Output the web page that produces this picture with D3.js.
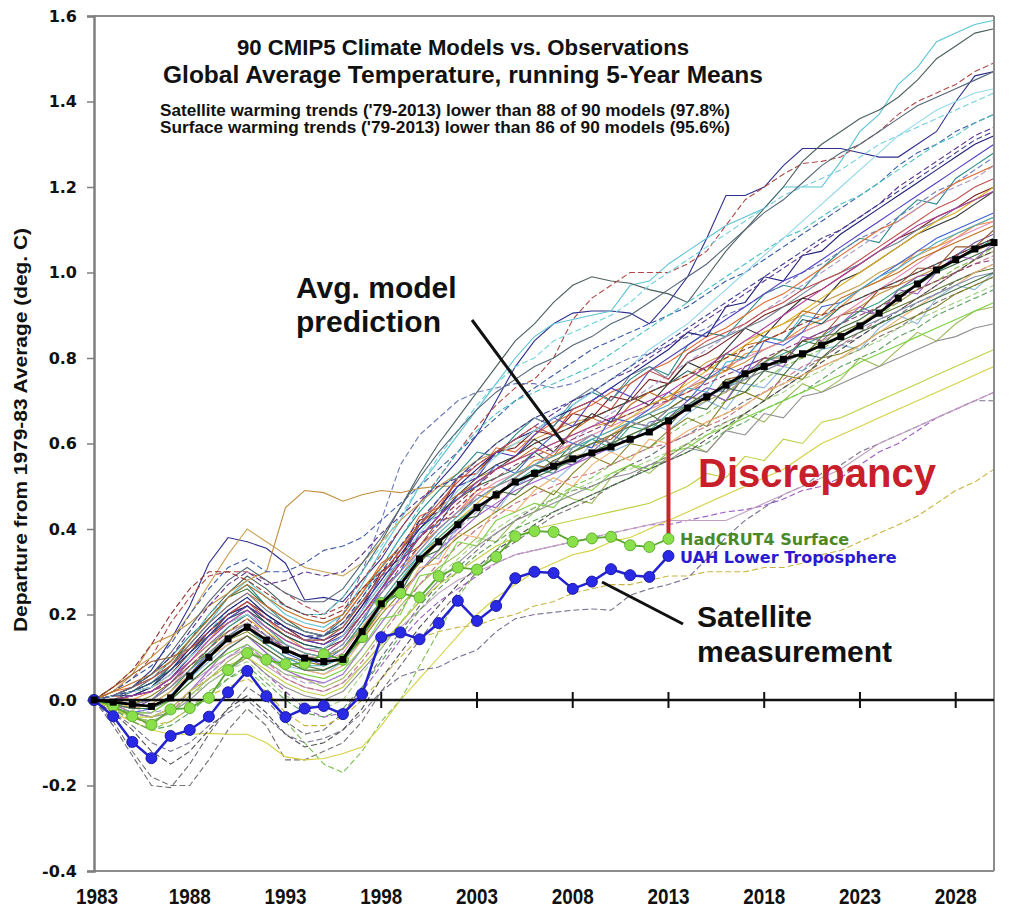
<!DOCTYPE html>
<html><head><meta charset="utf-8">
<script src="https://cdn.jsdelivr.net/npm/d3@7"></script>
<style>body{margin:0;background:#fff}svg{display:block}</style>
</head><body>
<svg id="chart" width="1009" height="909"></svg>
<script>
// ---------- data ----------
const years = d3.range(1983, 2031);            // 1983 ... 2030
const xTickYears = [1983,1988,1993,1998,2003,2008,2013,2018,2023,2028];
const yTickValues = [-0.4,-0.2,0,0.2,0.4,0.6,0.8,1.0,1.2,1.4,1.6];

const avgModel = [0,-.005,-.01,-.015,.005,.056,.10,.143,.17,  .14,.117,.098,.09,.095,  .16,.225,.27,.33,.37,.41,.45,.48,.51,  .53,.547,.564,.578,.592,.61,.627,.653,  .683,.709,.737,.763,.78,.797,.81,.83,  .85,.875,.905,.94,.973,1.006,1.03,1.055,1.07];
const hadcrut4 = [0,-.014,-.038,-.058,-.022,-.019,.005,.07,.11,  .094,.084,.085,.107,.094,  .147,.227,.25,.24,.29,.31,.305,.335,.383,  .395,.393,.37,.378,.382,.362,.358,.377];
const uahLT = [0,-.038,-.098,-.136,-.084,-.07,-.039,.018,.068,  .009,-.04,-.02,-.014,-.033,  .014,.147,.158,.142,.18,.232,.185,.22,.285,  .30,.297,.26,.277,.306,.292,.288,.337];

const modelRuns = [
[0,.01,.03,.07,.14,.22,.32,.38,.37,  .355,.32,.234,.24,.23,  .28,.33,.4,.46,.51,.56,.62,.70,.78,  .84,.88,.905,.91,.91,.905,.88,.93,  .99,1.08,1.18,1.18,1.2,1.25,1.29,1.29,  1.29,1.28,1.27,1.27,1.3,1.33,1.4,1.46,1.47],
[0,.01,.02,.04,.08,.13,.18,.24,.28,  .24,.2,.18,.17,.2,  .27,.35,.42,.5,.56,.62,.68,.74,.8,  .85,.88,.89,.9,.91,.97,.98,1.02,  1.05,1.08,1.11,1.13,1.15,1.2,1.2,1.2,  1.26,1.33,1.37,1.44,1.48,1.54,1.56,1.58,1.59],
[0,0,.02,.05,.09,.14,.2,.25,.29,  .26,.22,.2,.2,.24,  .3,.37,.45,.53,.6,.66,.72,.78,.84,  .88,.93,.97,.99,.98,.975,.96,.95,  .93,.99,1.05,1.1,1.15,1.2,1.26,1.3,  1.33,1.36,1.38,1.41,1.45,1.5,1.53,1.56,1.57],
[0,.02,.05,.1,.18,.24,.29,.3,.3,  .28,.25,.22,.2,.22,  .28,.34,.4,.46,.52,.58,.64,.69,.73,  .75,.8,.89,.94,.97,1.0,1.0,1.0,  1.02,1.05,1.11,1.17,1.2,1.23,1.255,1.26,  1.27,1.3,1.33,1.37,1.4,1.42,1.44,1.47,1.49],
[0,.03,.07,.1,.14,.2,.27,.34,.4,  .37,.34,.31,.3,.29,  .32,.37,.42,.46,.5,.53,.56,.58,.6,  .61,.63,.65,.66,.68,.7,.72,.74,  .76,.79,.81,.84,.86,.88,.9,.93,  .95,.97,1.0,1.02,1.04,1.06,1.09,1.11,1.13],
[0,.02,.06,.13,.15,.18,.22,.25,.28,  .3,.45,.49,.485,.465,  .48,.49,.485,.495,.5,.5,.52,.54,.56,  .58,.6,.62,.64,.65,.67,.69,.71,  .73,.75,.77,.79,.82,.84,.86,.88,  .9,.92,.95,.97,.99,1.01,1.03,1.05,1.07],
[0,.01,.03,.06,.1,.15,.19,.24,.27,  .22,.18,.16,.15,.19,  .25,.31,.38,.44,.49,.53,.58,.57,.62,  .66,.64,.69,.72,.7,.75,.78,.76,  .83,.86,.85,.9,.95,.97,.96,1.01,  1.05,1.08,1.07,1.13,1.17,1.16,1.22,1.25,1.28],
[0,-.01,-.02,0,.04,.09,.13,.17,.2,  .16,.12,.1,.08,.1,  .15,.21,.27,.33,.37,.4,.46,.45,.5,  .52,.56,.55,.58,.62,.6,.65,.66,  .7,.73,.72,.78,.8,.79,.84,.86,  .88,.91,.9,.96,.99,1.0,1.04,1.07,1.09],
[0,-.02,-.04,-.05,-.03,.01,.05,.09,.12,  .09,.06,.05,.03,.05,  .1,.16,.22,.27,.31,.34,.38,.37,.42,  .44,.49,.47,.46,.52,.55,.53,.57,  .6,.58,.63,.67,.65,.7,.74,.72,  .75,.8,.78,.82,.86,.84,.88,.91,.92],
[0,.01,0,.02,.05,.1,.14,.19,.22,  .19,.15,.12,.11,.14,  .2,.25,.3,.36,.4,.44,.49,.5,.52,  .56,.57,.6,.59,.62,.65,.67,.7,  .72,.75,.77,.81,.82,.84,.87,.89,  .92,.96,.98,1.01,1.05,1.06,1.08,1.11,1.12],
[0,-.06,-.13,-.2,-.205,-.15,-.08,-.02,.03,  0,-.05,-.08,-.07,-.03,  .03,.1,.16,.22,.27,.31,.35,.39,.42,  .45,.47,.49,.5,.52,.55,.57,.6,  .62,.65,.67,.7,.72,.74,.77,.8,  .83,.85,.88,.9,.93,.95,.98,1.0,1.02],
[0,-.05,-.12,-.18,-.2,-.2,-.14,-.07,-.02,  -.06,-.14,-.14,-.12,-.1,  -.05,.02,.08,.14,.2,.25,.3,.34,.37,  .4,.43,.45,.47,.5,.52,.55,.57,  .6,.63,.65,.67,.7,.73,.76,.78,  .8,.82,.85,.87,.9,.93,.95,.97,.99],
[0,-.02,-.05,-.07,-.05,-.02,.02,.05,.07,  .03,-.05,-.1,-.15,-.17,  -.12,-.05,0,.08,.16,.24,.3,.35,.4,  .44,.47,.5,.52,.55,.57,.59,.62,  .65,.67,.7,.72,.75,.78,.8,.82,  .85,.88,.9,.93,.96,.98,1.01,1.03,1.06],
[0,-.03,-.05,-.07,-.08,-.08,-.078,-.08,-.08,  -.1,-.133,-.14,-.137,-.125,  -.11,-.06,0,.05,.1,.15,.2,.24,.27,  .3,.32,.34,.35,.37,.38,.4,.42,  .44,.46,.48,.5,.52,.54,.57,.6,  .62,.64,.66,.68,.7,.72,.74,.76,.78],
[0,-.02,-.04,-.06,-.05,-.02,.01,.03,.05,  .02,-.03,-.06,-.06,-.04,  0,.05,.1,.145,.16,.17,.175,.19,.2,  .22,.23,.25,.26,.27,.27,.28,.29,  .29,.3,.3,.3,.31,.31,.32,.34,  .35,.37,.39,.41,.43,.46,.49,.51,.54],
[0,-.03,-.06,-.1,-.12,-.1,-.06,-.03,0,  -.04,-.08,-.1,-.09,-.07,  -.03,.02,.055,.07,.077,.1,.117,.16,.19,  .2,.205,.21,.213,.21,.245,.26,.27,  .285,.33,.38,.42,.45,.48,.5,.53,  .55,.58,.6,.62,.64,.66,.68,.7,.7],
[0,-.01,-.03,-.04,-.02,.02,.05,.08,.1,  .06,.02,-.02,-.04,-.03,  .02,.08,.14,.19,.23,.26,.29,.32,.34,  .35,.36,.37,.38,.39,.4,.41,.41,  .42,.43,.44,.445,.455,.47,.49,.5,  .52,.55,.58,.6,.63,.66,.68,.7,.72],
[0,-.02,-.03,-.03,0,.04,.07,.1,.12,  .08,.05,.03,.02,.04,  .08,.13,.17,.21,.25,.28,.3,.32,.34,  .35,.36,.37,.38,.39,.4,.41,.42,  .42,.42,.42,.44,.46,.48,.5,.52,  .54,.57,.6,.62,.64,.66,.68,.7,.72],
[0,.02,.05,.08,.13,.2,.26,.31,.33,  .3,.3,.32,.35,.36,  .38,.42,.46,.5,.54,.58,.62,.66,.7,  .73,.76,.79,.82,.84,.86,.88,.9,  .92,.95,.98,1.0,1.03,1.06,1.09,1.12,  1.15,1.18,1.21,1.25,1.28,1.3,1.33,1.35,1.37],
[0,.01,.03,.05,.08,.12,.16,.2,.22,  .19,.16,.14,.15,.2,  .3,.42,.55,.62,.66,.7,.72,.73,.74,  .74,.73,.74,.76,.78,.8,.81,.83,  .85,.87,.9,.92,.95,.97,1.0,1.02,  1.05,1.08,1.1,1.13,1.16,1.19,1.21,1.24,1.27],
[0,.03,.06,.09,.1,.12,.15,.18,.2,  .17,.14,.12,.12,.15,  .2,.26,.33,.36,.42,.43,.48,.47,.52,  .55,.54,.58,.6,.61,.65,.64,.68,  .71,.7,.75,.76,.8,.8,.84,.85,  .9,.91,.96,.97,1.01,1.01,1.06,1.06,1.1],
[0,0,.01,.03,.08,.14,.19,.24,.26,  .22,.19,.16,.15,.17,  .23,.29,.35,.4,.44,.47,.5,.52,.54,  .58,.55,.6,.62,.6,.65,.67,.64,  .69,.72,.7,.76,.78,.79,.84,.83,  .87,.89,.92,.95,.97,1.0,1.02,1.04,1.06],
[0,-.01,-.02,-.02,.01,.05,.09,.13,.15,  .11,.08,.07,.06,.09,  .14,.22,.25,.34,.33,.41,.46,.44,.5,  .53,.51,.55,.6,.58,.6,.65,.63,  .67,.7,.68,.74,.73,.78,.77,.82,  .83,.82,.87,.9,.88,.94,.97,.96,1.0],
[0,0,-.01,0,.03,.08,.12,.16,.18,  .14,.12,.1,.09,.11,  .17,.23,.29,.35,.4,.44,.48,.51,.53,  .55,.58,.6,.62,.64,.66,.68,.7,  .73,.76,.78,.8,.82,.84,.86,.88,  .9,.93,.96,.99,1.02,1.05,1.08,1.1,1.12],
[0,.01,.02,.03,.06,.11,.16,.2,.23,  .2,.17,.14,.13,.16,  .22,.3,.33,.42,.44,.52,.53,.58,.59,  .63,.62,.67,.66,.71,.7,.75,.74,  .79,.81,.84,.87,.9,.92,.94,.96,  .99,1.02,1.05,1.08,1.1,1.13,1.15,1.18,1.2],
[0,-.01,-.01,.01,.04,.08,.11,.14,.16,  .13,.1,.09,.08,.1,  .14,.2,.25,.3,.34,.38,.41,.44,.47,  .5,.48,.53,.57,.55,.6,.59,.63,  .66,.64,.7,.72,.7,.76,.75,.8,  .81,.83,.86,.88,.9,.92,.95,.97,.99],
[0,.01,.02,.04,.07,.12,.16,.21,.24,  .2,.16,.14,.14,.17,  .24,.31,.38,.45,.52,.58,.63,.67,.7,  .72,.74,.76,.78,.81,.84,.87,.9,  .93,.96,.99,1.02,1.05,1.08,1.1,1.13,  1.16,1.18,1.21,1.24,1.27,1.3,1.32,1.35,1.37],
[0,0,.01,.02,.05,.1,.15,.2,.22,  .18,.15,.13,.12,.14,  .2,.26,.32,.38,.43,.48,.52,.55,.57,  .61,.58,.63,.67,.65,.71,.69,.74,  .79,.77,.82,.87,.85,.9,.94,.93,  .98,1.0,1.03,1.06,1.09,1.11,1.13,1.16,1.19],
[0,-.02,-.03,-.02,.01,.06,.11,.15,.18,  .15,.11,.09,.09,.12,  .18,.26,.3,.39,.41,.48,.5,.55,.53,  .58,.62,.6,.59,.66,.65,.68,.72,  .7,.75,.78,.76,.84,.83,.86,.92,  .93,.96,.99,1.02,1.05,1.08,1.1,1.12,1.14],
[0,-.02,-.05,-.07,-.06,-.03,.01,.05,.08,  .04,0,-.03,-.04,-.02,  .03,.09,.15,.21,.26,.3,.34,.37,.4,  .42,.44,.46,.48,.5,.52,.54,.56,  .58,.6,.63,.65,.68,.7,.72,.75,  .78,.8,.82,.85,.87,.9,.92,.94,.96],
[0,.02,.03,.05,.08,.13,.18,.22,.25,  .22,.19,.17,.16,.19,  .25,.32,.35,.43,.45,.52,.53,.59,.58,  .62,.65,.67,.69,.72,.74,.77,.79,  .82,.85,.87,.9,.93,.95,.98,1.01,  1.04,1.07,1.1,1.12,1.15,1.18,1.21,1.23,1.25],
[0,-.01,-.03,-.04,-.02,.02,.07,.12,.15,  .11,.07,.05,.04,.06,  .12,.18,.24,.3,.35,.39,.43,.46,.49,  .51,.53,.55,.57,.59,.61,.63,.65,  .68,.72,.7,.77,.79,.78,.85,.84,  .88,.92,.9,.96,.95,1.0,1.04,1.03,1.07],
[0,.01,.02,.04,.08,.13,.18,.22,.25,  .21,.18,.16,.15,.18,  .23,.29,.35,.41,.47,.52,.56,.6,.63,  .66,.64,.7,.73,.7,.76,.78,.75,  .81,.83,.85,.87,.89,.92,.95,.98,  1.0,1.02,1.05,1.07,1.1,1.12,1.15,1.17,1.19],
[0,0,-.02,-.01,.02,.07,.12,.16,.19,  .16,.13,.11,.1,.12,  .17,.22,.28,.33,.38,.42,.46,.5,.53,  .55,.57,.59,.61,.63,.66,.69,.71,  .74,.77,.8,.83,.86,.88,.91,.94,  .97,1.0,1.03,1.06,1.09,1.12,1.14,1.17,1.2],
[0,.01,.03,.05,.09,.14,.2,.24,.27,  .24,.22,.2,.2,.24,  .3,.36,.43,.5,.57,.63,.69,.74,.78,  .8,.84,.86,.88,.9,.93,.97,1.0,  1.03,1.06,1.09,1.12,1.15,1.18,1.2,1.22,  1.24,1.27,1.3,1.32,1.34,1.36,1.38,1.4,1.42],
[0,-.01,-.02,-.01,.02,.07,.12,.17,.2,  .17,.13,.11,.1,.12,  .18,.23,.29,.34,.38,.42,.45,.48,.51,  .54,.53,.58,.61,.59,.64,.63,.67,  .69,.71,.73,.76,.79,.81,.83,.85,  .88,.91,.93,.96,.98,1.0,1.03,1.05,1.08],
[0,-.02,-.04,-.05,-.03,.02,.06,.1,.13,  .09,.05,.03,.02,.04,  .09,.15,.21,.27,.32,.36,.4,.43,.46,  .48,.5,.52,.53,.55,.57,.59,.6,  .62,.64,.66,.69,.72,.75,.78,.8,  .83,.86,.89,.91,.94,.97,1.0,1.02,1.04],
[0,.01,.01,.03,.07,.12,.17,.21,.24,  .2,.17,.15,.14,.16,  .22,.28,.34,.4,.45,.5,.54,.58,.61,  .63,.66,.68,.7,.73,.76,.79,.82,  .86,.85,.92,.93,.99,.98,1.04,1.05,  1.09,1.12,1.15,1.18,1.21,1.24,1.27,1.3,1.32],
[0,-.02,-.03,-.03,0,.04,.08,.11,.13,  .1,.07,.06,.05,.07,  .12,.19,.2,.29,.3,.37,.36,.42,.44,  .46,.45,.5,.49,.53,.55,.54,.58,  .59,.62,.64,.66,.68,.7,.72,.74,  .76,.79,.81,.83,.85,.87,.89,.91,.93],
[0,.01,.02,.03,.05,.09,.13,.16,.18,  .15,.12,.1,.1,.12,  .17,.22,.27,.32,.37,.41,.45,.48,.51,  .53,.55,.57,.58,.6,.62,.64,.66,  .68,.7,.72,.75,.77,.79,.81,.84,  .86,.88,.91,.93,.96,.98,1.0,1.03,1.05],
[0,.01,.03,.06,.1,.16,.22,.27,.3,  .27,.28,.3,.29,.3,  .34,.39,.43,.47,.5,.52,.55,.58,.61,  .64,.67,.7,.72,.75,.77,.8,.83,  .86,.89,.92,.95,.98,1.01,1.04,1.07,  1.1,1.13,1.16,1.2,1.23,1.26,1.29,1.32,1.34],
[0,-.01,-.03,-.04,-.03,0,.04,.07,.1,  .06,.03,.01,0,.02,  .07,.12,.18,.23,.28,.32,.36,.39,.42,  .44,.46,.48,.5,.52,.53,.55,.56,  .59,.58,.63,.62,.67,.66,.71,.72,  .74,.76,.78,.8,.82,.84,.85,.87,.88],
[0,.01,.02,.04,.07,.11,.15,.19,.21,  .18,.15,.13,.12,.15,  .21,.27,.33,.38,.43,.47,.51,.54,.57,  .6,.62,.64,.66,.68,.7,.72,.74,  .77,.75,.81,.8,.85,.84,.89,.88,  .92,.94,.96,.98,1.0,1.02,1.04,1.06,1.08],
[0,-.02,-.04,-.05,-.03,.01,.04,.07,.09,  .05,.01,-.01,-.02,0,  .06,.12,.18,.24,.29,.33,.37,.4,.43,  .45,.47,.49,.51,.53,.54,.56,.58,  .6,.62,.65,.67,.7,.72,.75,.77,  .8,.82,.84,.87,.89,.91,.93,.95,.97],
[0,.02,.04,.06,.09,.14,.19,.24,.27,  .24,.21,.19,.18,.2,  .26,.31,.36,.41,.45,.48,.51,.54,.56,  .59,.57,.63,.66,.64,.69,.72,.7,  .75,.78,.77,.83,.84,.86,.91,.9,  .94,.96,.98,1.0,1.03,1.05,1.07,1.09,1.11],
[0,0,.01,.02,.05,.1,.15,.19,.22,  .19,.16,.14,.13,.15,  .21,.29,.32,.41,.43,.5,.52,.58,.57,  .62,.66,.64,.7,.73,.71,.77,.8,  .83,.86,.89,.92,.95,.98,1.0,1.03,  1.06,1.09,1.12,1.15,1.18,1.21,1.24,1.27,1.3],
[0,-.01,-.02,-.03,-.02,.02,.06,.1,.13,  .09,.06,.04,.04,.06,  .12,.18,.24,.3,.35,.4,.44,.48,.52,  .55,.58,.61,.64,.67,.7,.73,.76,  .79,.82,.85,.88,.91,.94,.97,1.0,  1.03,1.06,1.09,1.12,1.15,1.18,1.2,1.22,1.25],
[0,0,-.01,0,.03,.07,.11,.15,.17,  .13,.1,.08,.07,.09,  .15,.21,.27,.32,.37,.41,.45,.48,.51,  .53,.56,.58,.6,.62,.64,.66,.68,  .71,.7,.75,.74,.79,.82,.8,.85,  .86,.88,.9,.92,.94,.96,.98,1.0,1.01],
[0,.01,.03,.05,.08,.12,.16,.2,.23,  .19,.16,.14,.14,.17,  .23,.29,.35,.41,.46,.51,.55,.58,.61,  .64,.62,.68,.7,.68,.74,.77,.75,  .81,.84,.86,.88,.91,.93,.96,.98,  1.0,1.03,1.06,1.09,1.12,1.15,1.17,1.2,1.22],
[0,-.01,-.02,-.02,.01,.05,.1,.14,.17,  .13,.1,.08,.08,.1,  .16,.22,.28,.34,.39,.43,.47,.5,.53,  .55,.57,.59,.61,.63,.65,.67,.69,  .73,.72,.79,.8,.85,.84,.9,.89,  .93,.96,.99,1.01,1.04,1.07,1.09,1.11,1.13],
[0,-.03,-.07,-.12,-.15,-.12,-.07,-.02,.01,  -.03,-.08,-.11,-.1,-.07,  -.02,.05,.11,.17,.22,.27,.31,.35,.38,  .41,.44,.46,.48,.5,.52,.54,.56,  .58,.61,.64,.67,.7,.73,.76,.79,  .82,.85,.88,.91,.94,.97,1.0,1.03,1.05],
[0,.01,.03,.06,.11,.17,.23,.28,.31,  .28,.25,.23,.23,.26,  .32,.38,.45,.52,.58,.63,.68,.72,.75,  .78,.8,.83,.85,.88,.9,.93,.96,  .99,1.02,1.06,1.1,1.14,1.17,1.21,1.25,  1.28,1.3,1.33,1.36,1.39,1.41,1.43,1.45,1.47],
[0,-.01,-.02,-.01,.02,.06,.1,.13,.15,  .12,.09,.07,.06,.08,  .14,.21,.23,.31,.32,.39,.38,.45,.44,  .49,.52,.5,.55,.58,.56,.61,.6,  .63,.65,.67,.69,.72,.74,.76,.78,  .8,.83,.86,.89,.92,.95,.97,1.0,1.02],
[0,0,.01,.02,.04,.08,.12,.16,.19,  .15,.12,.1,.1,.13,  .19,.25,.31,.36,.41,.45,.49,.52,.55,  .57,.59,.61,.63,.65,.67,.69,.7,  .72,.74,.76,.78,.8,.82,.84,.86,  .88,.9,.92,.94,.96,.98,1.0,1.02,1.03],
[0,.01,.02,.03,.06,.1,.14,.18,.2,  .17,.14,.12,.12,.15,  .21,.27,.33,.39,.44,.49,.53,.57,.6,  .63,.66,.69,.72,.75,.78,.82,.85,  .88,.92,.96,1.0,1.04,1.08,1.12,1.16,  1.2,1.24,1.28,1.32,1.35,1.38,1.4,1.42,1.43],
[0,-.02,-.04,-.04,-.02,.02,.05,.08,.1,  .07,.04,.02,.01,.03,  .08,.13,.18,.23,.27,.3,.33,.36,.38,  .4,.41,.42,.43,.44,.45,.46,.48,  .5,.53,.52,.57,.56,.61,.6,.65,  .66,.68,.7,.72,.74,.76,.78,.8,.82],
[0,.01,.02,.04,.07,.11,.16,.2,.22,  .19,.17,.15,.15,.18,  .24,.3,.36,.42,.47,.52,.56,.6,.63,  .66,.68,.7,.72,.75,.78,.81,.84,  .87,.9,.93,.96,.99,1.02,1.05,1.08,  1.1,1.13,1.16,1.19,1.22,1.25,1.28,1.31,1.33],
[0,.03,.07,.13,.2,.26,.3,.3,.28,  .25,.22,.2,.19,.21,  .26,.3,.34,.38,.42,.46,.5,.54,.57,  .6,.62,.64,.66,.68,.7,.72,.74,  .76,.78,.8,.82,.84,.86,.88,.9,  .92,.94,.96,.98,1.0,1.02,1.04,1.06,1.08],
[0,-.01,-.01,0,.03,.07,.11,.15,.18,  .15,.13,.11,.1,.13,  .19,.25,.3,.35,.4,.44,.47,.5,.52,  .55,.53,.59,.62,.6,.65,.64,.68,  .69,.71,.73,.75,.77,.79,.81,.83,  .85,.87,.89,.91,.93,.95,.97,.99,1.0],
[0,0,.01,.02,.05,.09,.14,.18,.21,  .17,.14,.12,.11,.14,  .2,.26,.32,.38,.43,.47,.51,.54,.56,  .58,.6,.62,.64,.66,.68,.7,.72,  .75,.78,.81,.84,.87,.9,.93,.96,  .99,1.02,1.05,1.08,1.11,1.13,1.15,1.17,1.19],
[0,-.01,-.02,-.02,0,.04,.08,.12,.15,  .12,.09,.07,.07,.09,  .15,.23,.25,.33,.35,.42,.43,.49,.48,  .52,.54,.56,.58,.6,.62,.64,.66,  .69,.68,.73,.72,.77,.76,.81,.8,  .84,.86,.88,.9,.92,.94,.96,.98,1.0]
];

const modelColors = ["#2e2e8e","#5cc4d4","#4a5e5e","#b04848","#c8a050","#c49040","#2a8a8a","#7a4fa8","#9bbb59","#f08a3a",
"#6a6a78","#7a7070","#7cc050","#d6d040","#c8b440","#7a7090","#9a5ac8","#c4a0c0","#3a5aa8","#6a78b8",
"#9a5a2a","#3a6a3a","#8ab8e0","#e08ab0","#7a2020","#808020","#4ac0c0","#333333","#4060d0","#5aa05a",
"#e06a30","#a060c8","#708090","#e0b020","#70d0e0","#3aa080","#c07080","#20207a","#7cd040","#b0a060",
"#5a3090","#909090","#1e6060","#a0d080","#c07020","#5040c0","#a898d0","#5f7530","#c0504d","#4bacc6",
"#505050","#556677","#f0b070","#904070","#90d8e8","#c0d040","#404090","#903030","#8090b0","#b040a0","#407040"];
const modelDashed = [0,0,0,1,0,0,0,0,0,0, 1,1,1,0,1,1,1,0,1,1, 0,0,0,0,0,0,1,0,0,1, 0,0,0,0,1,0,1,0,0,0, 1,0,0,1,0,0,1,0,0,0, 1,0,0,1,0,0,1,1,0,0,0];

// ---------- chart ----------
const svg = d3.select('#chart');
const x = d3.scaleLinear().domain([1983, 2030]).range([94, 994]);
const y = d3.scaleLinear().domain([-0.4, 1.6]).range([871, 16]);

svg.append('rect').attr('width', 1009).attr('height', 909).attr('fill', '#fff');

const lineGen = d3.line().x((d, i) => x(years[i])).y(d => y(d));

// model runs
svg.append('g').selectAll('path').data(modelRuns).join('path')
  .attr('d', lineGen)
  .attr('fill', 'none')
  .attr('stroke', (d, i) => modelColors[i % modelColors.length])
  .attr('stroke-width', 1.1)
  .attr('stroke-dasharray', (d, i) => modelDashed[i] ? '6,3' : null);

// frame
const frame = svg.append('g').attr('stroke', '#8c8c8c').attr('stroke-width', 2).attr('fill', 'none');
frame.append('line').attr('x1', x(1983)).attr('x2', x(2030)).attr('y1', y(1.6)).attr('y2', y(1.6));
frame.append('line').attr('x1', x(2030)).attr('x2', x(2030)).attr('y1', y(1.6)).attr('y2', y(-0.4));
frame.append('line').attr('x1', x(1983)).attr('x2', x(2030)).attr('y1', y(-0.4)).attr('y2', y(-0.4));

// y axis
const fmt = d3.format('.1f');
const yAxis = svg.append('g').attr('transform', `translate(${x(1983)},0)`)
  .call(d3.axisLeft(y).tickValues(yTickValues).tickSize(7).tickPadding(10)
    .tickFormat(d => fmt(d).replace('\u2212', '-')));
yAxis.select('.domain').attr('stroke', '#7f7f7f').attr('stroke-width', 2.5);
yAxis.selectAll('.tick line').attr('stroke', '#7f7f7f').attr('stroke-width', 1.5);
yAxis.selectAll('.tick text').attr('font-family', 'DejaVu Sans, Verdana, sans-serif')
  .attr('font-weight', 'bold').attr('font-size', 16).attr('fill', '#111');

// zero line with ticks
svg.append('line').attr('x1', x(1983)).attr('x2', x(2030)).attr('y1', y(0)).attr('y2', y(0))
  .attr('stroke', '#111').attr('stroke-width', 2.5);
svg.append('g').selectAll('line').data(xTickYears.slice(1)).join('line')
  .attr('x1', d => x(d)).attr('x2', d => x(d)).attr('y1', y(0) - 8).attr('y2', y(0) + 8)
  .attr('stroke', '#111').attr('stroke-width', 2);

// x labels
svg.append('g').selectAll('text').data(xTickYears).join('text')
  .attr('x', d => x(d) + (d === 1983 ? 3 : 0)).attr('y', 904)
  .attr('text-anchor', 'middle')
  .attr('font-family', 'Liberation Sans, Arial, sans-serif').attr('font-weight', 'bold')
  .attr('font-size', 22).attr('textLength', 42).attr('lengthAdjust', 'spacingAndGlyphs')
  .attr('fill', '#111').text(d => d);

// y title
svg.append('text').attr('transform', 'translate(27,430) rotate(-90)')
  .attr('text-anchor', 'middle')
  .attr('font-family', 'Liberation Sans, Arial, sans-serif').attr('font-weight', 'bold')
  .attr('font-size', 19).attr('textLength', 404).attr('lengthAdjust', 'spacingAndGlyphs')
  .attr('fill', '#111').text('Departure from 1979-83 Average (deg. C)');

// titles
const T = svg.append('g').attr('font-family', 'Liberation Sans, Arial, sans-serif').attr('font-weight', 'bold').attr('fill', '#111');
T.append('text').attr('x', 463).attr('y', 55).attr('text-anchor', 'middle').attr('font-size', 22.5)
  .attr('textLength', 452).attr('lengthAdjust', 'spacingAndGlyphs')
  .text('90 CMIP5 Climate Models vs. Observations');
T.append('text').attr('x', 463).attr('y', 83).attr('text-anchor', 'middle').attr('font-size', 23.5)
  .attr('textLength', 600).attr('lengthAdjust', 'spacingAndGlyphs')
  .text('Global Average Temperature, running 5-Year Means');
T.append('text').attr('x', 160).attr('y', 116).attr('font-size', 16.5)
  .attr('textLength', 570).attr('lengthAdjust', 'spacingAndGlyphs')
  .text("Satellite warming trends ('79-2013) lower than 88 of 90 models (97.8%)");
T.append('text').attr('x', 160).attr('y', 133).attr('font-size', 16.5)
  .attr('textLength', 570).attr('lengthAdjust', 'spacingAndGlyphs')
  .text("Surface warming trends ('79-2013) lower than 86 of 90 models (95.6%)");

// discrepancy bar
const i2013 = years.indexOf(2013);
svg.append('line').attr('x1', x(2013)).attr('x2', x(2013))
  .attr('y1', y(avgModel[i2013])).attr('y2', y(hadcrut4[i2013]))
  .attr('stroke', '#c0282d').attr('stroke-width', 4);

// HadCRUT4
const obsLine = d3.line().x((d, i) => x(years[i])).y(d => y(d));
svg.append('path').attr('d', obsLine(hadcrut4)).attr('fill', 'none').attr('stroke', '#5aa832').attr('stroke-width', 1.8);
svg.append('g').selectAll('circle').data(hadcrut4).join('circle')
  .attr('cx', (d, i) => x(years[i])).attr('cy', d => y(d)).attr('r', 5.5)
  .attr('fill', '#8ae04a').attr('stroke', '#62b032').attr('stroke-width', 1);

// UAH
svg.append('path').attr('d', obsLine(uahLT)).attr('fill', 'none').attr('stroke', '#2222d0').attr('stroke-width', 2.5);
svg.append('g').selectAll('circle').data(uahLT).join('circle')
  .attr('cx', (d, i) => x(years[i])).attr('cy', d => y(d)).attr('r', 5.5)
  .attr('fill', '#2a2ae6').attr('stroke', '#1a1aa8').attr('stroke-width', 1);

// average model
svg.append('path').attr('d', lineGen(avgModel)).attr('fill', 'none').attr('stroke', '#000').attr('stroke-width', 2.8);
svg.append('g').selectAll('rect').data(avgModel).join('rect')
  .attr('x', (d, i) => x(years[i]) - 3.5).attr('y', d => y(d) - 3.5)
  .attr('width', 7).attr('height', 7).attr('fill', '#000');

// annotations
const A = svg.append('g').attr('font-family', 'Liberation Sans, Arial, sans-serif').attr('font-weight', 'bold');
A.append('text').attr('x', 296).attr('y', 298).attr('font-size', 30).attr('fill', '#111').text('Avg. model');
A.append('text').attr('x', 296).attr('y', 332).attr('font-size', 30).attr('fill', '#111').text('prediction');
A.append('line').attr('x1', 472).attr('y1', 320).attr('x2', 564).attr('y2', 444).attr('stroke', '#111').attr('stroke-width', 3);
A.append('text').attr('x', 698).attr('y', 487).attr('font-size', 40).attr('fill', '#c8202a').text('Discrepancy');
A.append('text').attr('x', 697).attr('y', 627).attr('font-size', 30).attr('fill', '#111').text('Satellite');
A.append('text').attr('x', 697).attr('y', 662).attr('font-size', 30).attr('fill', '#111').text('measurement');
A.append('line').attr('x1', 602).attr('y1', 582).attr('x2', 683).attr('y2', 624).attr('stroke', '#111').attr('stroke-width', 3);
const O = svg.append('g').attr('font-family', 'DejaVu Sans, Verdana, sans-serif').attr('font-weight', 'bold').attr('font-size', 16);
O.append('text').attr('x', 680).attr('y', 545).attr('fill', '#4a8a26').text('HadCRUT4 Surface');
O.append('text').attr('x', 680).attr('y', 563).attr('fill', '#2a1ad0').text('UAH Lower Troposphere');
</script>
</body></html>
